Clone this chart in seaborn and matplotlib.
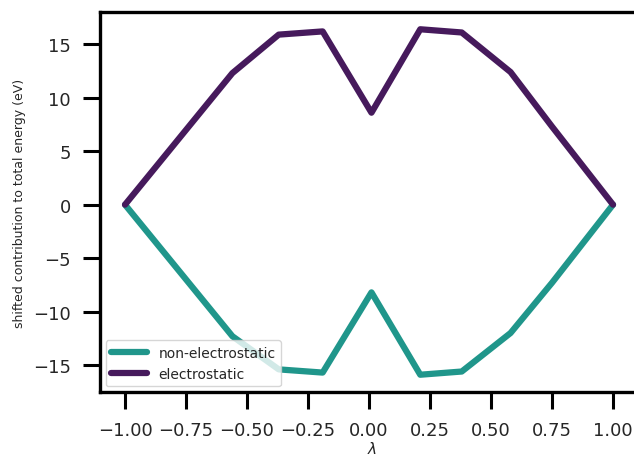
import numpy as np
import pandas as pd
import matplotlib
matplotlib.use("Agg")
import matplotlib.pyplot as plt
import seaborn as sns

# lambda values and shifted energy contributions (eV)
lam = [-1.0, -0.56, -0.37, -0.19, 0.01, 0.21, 0.38, 0.58, 0.75, 1.0]
non_electrostatic = [0.0, -12.3, -15.4, -15.7, -8.2, -15.9, -15.6, -12.0, -7.3, 0.0]
electrostatic = [0.0, 12.3, 15.9, 16.2, 8.6, 16.4, 16.1, 12.4, 7.3, 0.0]
labels = ["non-electrostatic", "electrostatic"]

df = pd.DataFrame({
    "lam": lam * 2,
    "energy": non_electrostatic + electrostatic,
    "term": [labels[0]] * len(lam) + [labels[1]] * len(lam),
})

sns.set_style("ticks")
plt.rcParams["font.family"] = ["DejaVu Sans"]

fig = plt.figure(figsize=(6.34, 4.56), dpi=100)
# the original picture is cropped on the right: axes run past the figure edge
ax = fig.add_axes([100 / 634, 63 / 456, 545 / 634, 380 / 456])

sns.lineplot(data=df, x="lam", y="energy", hue="term", hue_order=labels,
             palette=["#20968b", "#461a5c"], lw=4.5, ax=ax)
ax.set_xlim(-1.1025, 1.131)

for sp in ax.spines.values():
    sp.set_linewidth(2.4)
    sp.set_color("black")
ax.tick_params(axis="both", length=12, width=2.2, pad=9, labelsize=13, color="black")
ax.set_xticks(np.arange(-1, 1.01, 0.25))
ax.set_yticks(np.arange(-15, 16, 5))

ax.set_ylabel("shifted contribution to total energy (eV)", fontsize=9, labelpad=5)
ax.set_xlabel(r"$\lambda$", fontsize=11, labelpad=0.5)

leg = ax.legend(loc="lower left", fontsize=10, handlelength=2.6, borderaxespad=0.4,
                frameon=True, fancybox=True, framealpha=0.8)
leg.get_frame().set_edgecolor("#cccccc")
for h in leg.get_lines():
    h.set_linewidth(4.5)

fig.savefig("out.png", dpi=100)
